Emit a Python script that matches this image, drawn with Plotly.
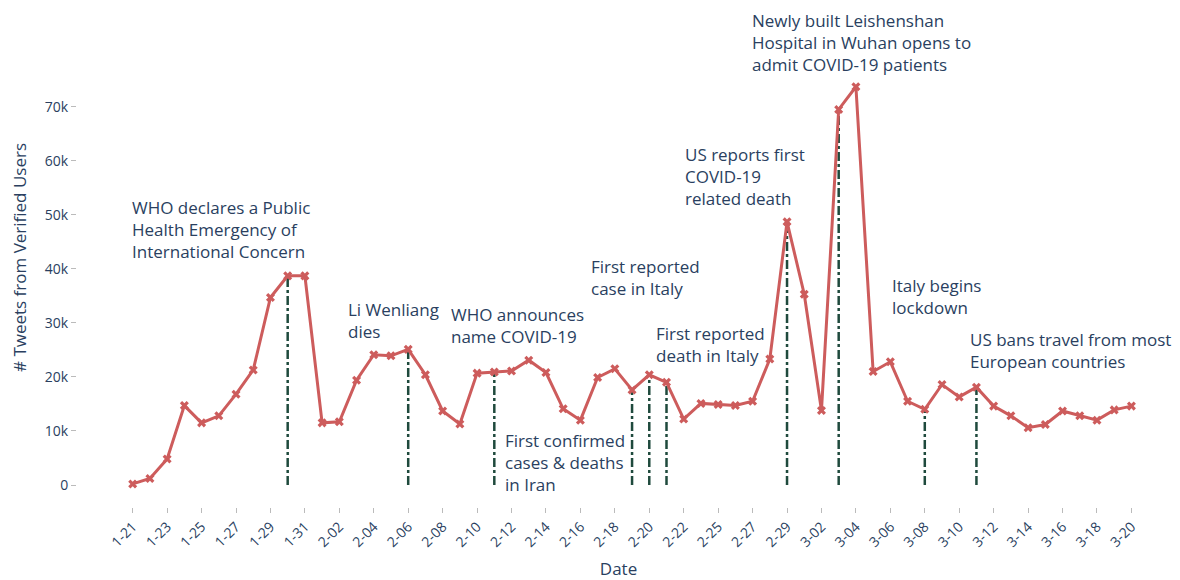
import plotly.graph_objects as go

dates = ["1-21", "1-22", "1-23", "1-24", "1-25", "1-26", "1-27", "1-28", "1-29", "1-30",
         "1-31", "2-01", "2-02", "2-03", "2-04", "2-05", "2-06", "2-07", "2-08", "2-09",
         "2-10", "2-11", "2-12", "2-13", "2-14", "2-15", "2-16", "2-17", "2-18", "2-19",
         "2-20", "2-21", "2-22", "2-24", "2-25", "2-26", "2-27", "2-28", "2-29", "3-01",
         "3-02", "3-03", "3-04", "3-05", "3-06", "3-07", "3-08", "3-09", "3-10", "3-11",
         "3-12", "3-13", "3-14", "3-15", "3-16", "3-17", "3-18", "3-19", "3-20"]

tweets = [200, 1200, 4800, 14700, 11500, 12800, 16800, 21300, 34700, 38700,
          38700, 11500, 11700, 19400, 24100, 23900, 25100, 20400, 13700, 11300,
          20700, 20900, 21100, 23100, 20800, 14100, 12000, 19900, 21500, 17600,
          20400, 19000, 12200, 15100, 14900, 14700, 15500, 23300, 48700, 35300,
          13800, 69500, 73700, 21000, 22800, 15500, 14000, 18600, 16300, 18100,
          14600, 12800, 10600, 11200, 13700, 12800, 12000, 13900, 14600]

event_dates = ["1-30", "2-06", "2-11", "2-19", "2-20", "2-21", "2-29", "3-03", "3-08", "3-11"]

event_texts = [
    "WHO declares a Public<br>Health Emergency of<br>International Concern",
    "Li Wenliang<br>dies",
    "WHO announces<br>name COVID-19",
    "First confirmed<br>cases & deaths<br>in Iran",
    "First reported<br>case in Italy",
    "First reported<br>death in Italy",
    "US reports first<br>COVID-19<br>related death",
    "Newly built Leishenshan<br>Hospital in Wuhan opens to<br>admit COVID-19 patients",
    "Italy begins<br>lockdown",
    "US bans travel from most<br>European countries",
]
# left-middle anchor of each text block (category index, value)
text_x = [-0.16, 12.38, 18.36, 21.5, 26.49, 30.26, 31.95, 35.84, 43.97, 48.5]
text_y = [47190, 30530, 29610, 4230, 38490, 25910, 57000, 81800, 34970, 24800]

ytick_vals = [0, 10000, 20000, 30000, 40000, 50000, 60000, 70000]
ytick_text = ["0", "10k", "20k", "30k", "40k", "50k", "60k", "70k"]
xtick_labels = dates[::2]

line_color = "#cd5c5c"
event_color = "#1f4a3d"
font_color = "#2a3f5f"

fig = go.Figure()

vx, vy = [], []
lookup = dict(zip(dates, tweets))
for d in event_dates:
    vx += [d, d, None]
    vy += [0, lookup.get(d, 0), None]

fig.add_trace(go.Scatter(
    x=vx, y=vy, mode="lines",
    line=dict(color=event_color, width=2.5, dash="dashdot"),
    hoverinfo="skip", showlegend=False,
))

fig.add_trace(go.Scatter(
    x=dates, y=tweets, mode="lines+markers",
    line=dict(color=line_color, width=3),
    marker=dict(symbol="x", size=8, color=line_color),
    showlegend=False,
))

for t, xx, yy in zip(event_texts, text_x, text_y):
    fig.add_annotation(
        x=xx, y=yy, xref="x", yref="y", text=t, showarrow=False,
        xanchor="left", yanchor="middle", align="left",
        font=dict(size=17, color=font_color, family="Open Sans"),
    )

fig.update_layout(
    width=1172, height=572,
    template="plotly_white",
    margin=dict(l=69, r=20, t=0, b=73),
    font=dict(family="Open Sans", color=font_color, size=14),
    plot_bgcolor="white", paper_bgcolor="white",
)

fig.update_xaxes(
    type="category", categoryorder="array", categoryarray=dates,
    range=[-3.235, 59.66], automargin=False,
    tickmode="array", tickvals=xtick_labels, ticktext=xtick_labels,
    tickangle=-45, ticks="outside", ticklen=5, tickcolor="#bbbbbb",
    showgrid=False, zeroline=False, showline=False,
    tickfont=dict(size=14),
    title=dict(text="Date", font=dict(size=17), standoff=13),
)
fig.update_yaxes(
    range=[-4070, 88270], automargin=False,
    tickmode="array", tickvals=ytick_vals, ticktext=ytick_text,
    ticks="outside", ticklen=5, tickcolor="#bbbbbb",
    showgrid=False, zeroline=False, showline=False,
    tickfont=dict(size=14),
    title=dict(text="# Tweets from Verified Users", font=dict(size=17), standoff=22),
)

fig.write_html("out.html")
